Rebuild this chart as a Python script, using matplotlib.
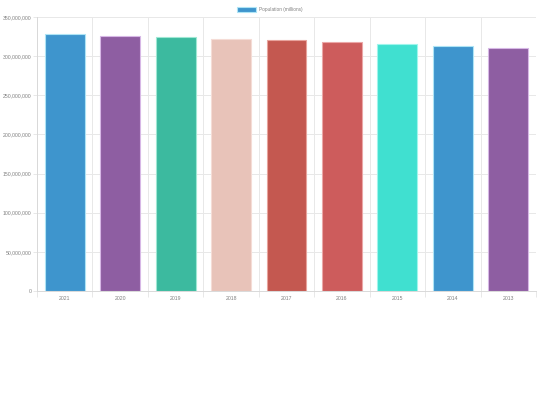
import matplotlib.pyplot as plt
from matplotlib.patches import Patch
from matplotlib.ticker import FuncFormatter, MultipleLocator

years = ['2021', '2020', '2019', '2018', '2017', '2016', '2015', '2014', '2013']
population = [328.7e6, 325.9e6, 324.1e6, 322.0e6, 320.4e6, 317.8e6, 315.6e6, 313.5e6, 310.6e6]
bar_colors = ['#3e95cd', '#8e5ea2', '#3cba9f', '#e8c3b9', '#c45850',
              '#cd5c5c', '#40e0d0', '#3e95cd', '#8e5ea2']
edge_colors = ['#aee4f5', '#d7b8e6', '#9fe8d4', '#f5dcd6', '#e8a39c',
               '#eba7a7', '#9ff5ec', '#aee4f5', '#d7b8e6']
legend_label = 'Population (millions)'

plt.rcParams['font.family'] = ['Liberation Sans', 'DejaVu Sans']
grid_color = '#e8e8e8'
text_color = '#808080'

fig = plt.figure(figsize=(5.4, 4.05), dpi=100)
ax = fig.add_axes([37 / 540, 114 / 405, 499 / 540, 274 / 405])

x = range(len(years))
ax.bar(x, population, width=0.72, color=bar_colors, edgecolor=edge_colors,
       linewidth=0.8, zorder=3)

ax.set_xlim(-0.5, len(years) - 0.5)
ax.set_ylim(0, 350e6)
ax.yaxis.set_major_locator(MultipleLocator(50e6))
ax.yaxis.set_major_formatter(FuncFormatter(lambda v, p: f'{int(v):,}'))
ax.set_xticks(list(x))
ax.set_xticklabels(years)

# vertical grid lines at category boundaries
ax.set_xticks([i - 0.5 for i in range(len(years) + 1)], minor=True)
ax.grid(axis='x', which='minor', color=grid_color, linewidth=0.7, zorder=0)
ax.grid(axis='y', which='major', color=grid_color, linewidth=0.7, zorder=0)

ax.tick_params(axis='x', which='major', length=0, labelsize=3.7,
               labelcolor=text_color, pad=3.5)
ax.tick_params(axis='x', which='minor', length=4, color=grid_color, width=0.7)
ax.tick_params(axis='y', length=3, color=grid_color, width=0.7, labelsize=3.7,
               labelcolor=text_color, pad=1)

for s in ['top', 'right']:
    ax.spines[s].set_visible(False)
for s in ['left', 'bottom']:
    ax.spines[s].set_color('#d9d9d9')
    ax.spines[s].set_linewidth(0.7)

handle = Patch(facecolor='#3e95cd', edgecolor='#aee4f5', linewidth=0.8)
fig.legend([handle], [legend_label], loc='center', bbox_to_anchor=(0.5, 1 - 9.5 / 405),
           frameon=False, fontsize=3.4, labelcolor=text_color,
           handlelength=4.0, handleheight=1.1, handletextpad=0.6)

fig.savefig('out.png', dpi=100)
